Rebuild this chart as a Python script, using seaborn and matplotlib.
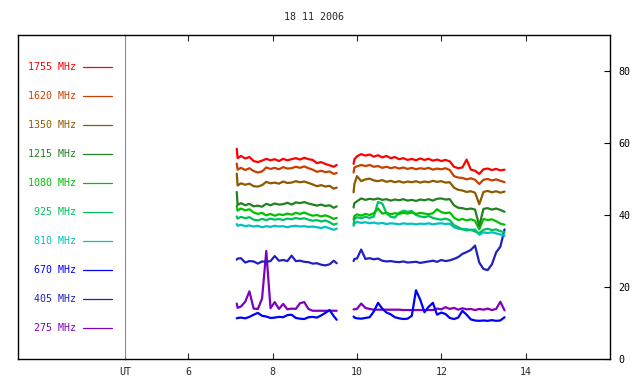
import numpy as np
import pandas as pd
import seaborn as sns
import matplotlib.pyplot as plt

# frequencies, colours (legend order, top to bottom)
freqs = ['1755', '1620', '1350', '1215', '1080', '925', '810', '670', '405', '275']
colors = ['#ff0000', '#c84000', '#8c5a00', '#228022', '#00c000',
          '#00c060', '#00c0c0', '#0000ff', '#2020c0', '#8000c0']

# time in UT hours, two observing segments
t_seg1 = [7.15, 7.17, 7.25, 7.35, 7.45, 7.55, 7.65, 7.75, 7.85, 7.95, 8.05, 8.15, 8.25,
          8.35, 8.45, 8.55, 8.65, 8.75, 8.85, 8.95, 9.05, 9.15, 9.25, 9.35, 9.45, 9.52]
t_seg2 = [9.92, 9.94, 10.0, 10.1, 10.2, 10.3, 10.4, 10.5, 10.6, 10.7, 10.8, 10.9, 11.0,
          11.1, 11.2, 11.3, 11.4, 11.5, 11.6, 11.7, 11.8, 11.9, 12.0, 12.1, 12.2, 12.3,
          12.4, 12.5, 12.6, 12.7, 12.8, 12.9, 13.0, 13.1, 13.2, 13.3, 13.4, 13.5]

# flux values
f1755_a = [58.4, 55.8, 56.4, 55.7, 56.1, 55.0, 54.7, 55.1, 55.6, 55.2, 55.5, 55.0, 55.6,
           55.2, 55.5, 55.8, 55.4, 55.9, 55.5, 55.3, 54.4, 54.7, 54.2, 53.8, 53.4, 53.9]
f1755_b = [54.2, 55.5, 56.3, 56.9, 56.5, 56.8, 56.2, 56.6, 56.0, 56.4, 55.8, 56.1, 55.5,
           55.8, 55.3, 55.6, 55.2, 55.7, 55.3, 55.6, 55.1, 55.4, 55.0, 55.3, 54.9, 53.4,
           53.0, 53.2, 55.4, 52.6, 52.3, 51.4, 52.7, 52.9, 52.5, 52.8, 52.4, 52.6]
f1620_a = [54.3, 52.6, 53.1, 52.5, 53.0, 52.2, 51.8, 52.1, 53.2, 52.8, 53.1, 52.7, 53.3,
           52.9, 53.0, 53.4, 53.1, 53.5, 53.0, 52.6, 52.0, 52.3, 51.9, 52.1, 51.4, 51.7]
f1620_b = [51.8, 53.2, 53.5, 53.9, 53.6, 53.9, 53.4, 53.6, 53.1, 53.4, 53.0, 53.3, 52.9,
           53.2, 52.8, 53.1, 52.7, 53.0, 52.8, 53.1, 52.6, 52.9, 52.7, 53.0, 52.5, 50.8,
           50.4, 50.3, 49.9, 50.2, 49.8, 48.6, 49.8, 50.0, 49.6, 49.9, 49.5, 49.1]
f1350_a = [51.5, 48.2, 48.8, 48.4, 48.7, 48.0, 47.9, 48.3, 49.2, 48.8, 49.0, 48.7, 49.3,
           48.9, 49.0, 49.4, 49.1, 49.3, 48.9, 48.5, 48.0, 48.3, 47.9, 48.1, 47.3, 47.6]
f1350_b = [46.3, 48.6, 50.8, 49.4, 49.9, 50.1, 49.6, 49.4, 49.7, 49.2, 49.5, 49.1, 49.4,
           49.0, 49.3, 49.1, 49.4, 49.0, 49.3, 49.1, 49.5, 49.2, 49.4, 49.0, 49.1, 47.6,
           47.0, 46.8, 46.4, 46.6, 46.2, 43.0, 46.4, 46.7, 46.3, 46.6, 46.2, 46.5]
f1215_a = [46.4, 42.8, 43.3, 42.7, 43.1, 42.4, 42.6, 42.3, 43.1, 42.7, 43.2, 42.9, 43.0,
           43.4, 42.9, 43.5, 43.3, 43.6, 43.2, 42.9, 42.6, 42.9, 42.5, 42.7, 42.0, 42.4]
f1215_b = [42.1, 43.3, 43.8, 44.6, 44.2, 44.5, 44.3, 44.6, 44.2, 44.4, 44.0, 44.3, 44.1,
           44.4, 44.0, 44.2, 43.9, 44.3, 44.1, 44.4, 44.0, 44.5, 44.6, 44.3, 44.4, 42.7,
           42.0, 41.9, 41.6, 41.8, 41.5, 37.0, 41.7, 41.9, 41.5, 41.8, 41.4, 40.9]
f1080_a = [42.5, 41.2, 41.8, 41.3, 41.6, 40.7, 40.3, 40.6, 39.9, 40.3, 39.8, 40.2, 40.0,
           40.4, 40.1, 40.6, 40.3, 40.7, 40.2, 39.8, 40.0, 39.6, 39.9, 39.5, 38.9, 39.2]
f1080_b = [38.8, 39.7, 40.2, 39.8, 40.3, 40.0, 40.5, 41.8, 40.4, 40.6, 40.2, 40.5, 40.3,
           40.6, 40.4, 40.7, 40.3, 40.6, 40.4, 40.2, 40.5, 41.6, 40.8, 40.5, 40.7, 39.3,
           38.6, 38.9, 38.5, 38.8, 38.4, 36.0, 38.9, 38.6, 38.8, 38.3, 37.6, 37.3]
f925_a = [39.6, 39.0, 39.5, 39.1, 39.4, 38.7, 38.5, 38.9, 38.6, 39.0, 38.7, 38.9, 38.6,
          39.0, 38.8, 39.2, 38.9, 39.1, 38.7, 38.4, 38.6, 38.2, 38.5, 38.0, 37.3, 37.6]
f925_b = [37.4, 38.9, 39.4, 39.1, 39.5, 39.2, 39.6, 43.6, 43.2, 40.5, 39.5, 39.3, 40.6,
          41.2, 40.9, 41.1, 40.0, 39.6, 39.4, 39.7, 39.2, 38.9, 38.7, 39.0, 38.6, 37.2,
          36.6, 36.1, 35.7, 35.9, 35.4, 35.0, 35.9, 36.2, 35.8, 36.0, 35.5, 35.2]
f810_a = [37.5, 37.0, 37.3, 36.9, 37.1, 36.8, 37.0, 36.6, 36.9, 36.7, 37.0, 36.8, 36.9,
          36.6, 36.9, 37.0, 36.8, 36.9, 36.7, 36.8, 36.6, 36.4, 36.7, 36.3, 35.9, 36.2]
f810_b = [37.0, 37.6, 38.1, 37.8, 38.0, 37.7, 37.9, 37.6, 37.8, 37.5, 37.7, 37.6, 37.4,
          37.7, 37.5, 37.6, 37.4, 37.6, 37.5, 37.7, 37.4, 37.6, 37.7, 37.5, 37.6, 36.6,
          36.2, 36.0, 36.1, 35.8, 36.0, 34.5, 35.2, 35.0, 35.2, 34.9, 34.6, 34.2]
f670_a = [11.3, 11.4, 11.5, 11.3, 11.7, 12.3, 12.8, 12.0, 11.8, 11.4, 11.5, 11.7, 11.6,
          12.2, 12.3, 11.4, 11.2, 11.1, 11.6, 11.7, 11.5, 12.1, 12.8, 13.6, 11.9, 10.9]
f670_b = [11.8, 11.5, 11.3, 11.2, 11.4, 11.6, 13.2, 15.6, 14.0, 12.9, 12.4, 11.6, 11.3,
          11.1, 11.2, 12.0, 19.1, 16.5, 13.0, 14.5, 15.6, 12.3, 12.9, 12.5, 11.4, 11.1,
          11.5, 13.4, 12.3, 11.0, 10.7, 10.6, 10.7, 10.6, 10.8, 10.6, 10.7, 11.6]
f405_a = [27.6, 27.9, 28.0, 26.8, 27.2, 27.1, 26.5, 27.1, 27.0, 27.2, 28.6, 27.3, 27.5,
          27.2, 28.7, 27.2, 27.3, 27.0, 26.9, 26.5, 26.6, 26.2, 26.0, 26.3, 27.3, 26.6]
f405_b = [27.2, 27.8, 27.9, 30.4, 27.8, 28.0, 27.7, 27.9, 27.3, 27.1, 27.2, 27.0, 26.9,
          27.1, 26.8, 26.9, 27.0, 26.7, 26.9, 27.1, 27.3, 27.0, 27.5, 27.2, 27.4, 27.8,
          28.3, 29.2, 29.7, 30.3, 31.5, 26.8, 25.0, 24.7, 26.3, 29.6, 31.2, 36.0]
f275_a = [15.4, 14.2, 14.6, 15.9, 18.8, 14.0, 13.9, 16.8, 30.0, 14.1, 15.8, 13.9, 15.3,
          13.8, 14.0, 13.9, 15.5, 15.8, 13.9, 13.4, 13.4, 13.4, 13.4, 13.4, 13.4, 13.4]
f275_b = [13.8, 13.8, 13.9, 15.4, 14.2, 13.9, 13.7, 13.7, 13.7, 13.7, 13.7, 13.7, 13.7,
          13.6, 13.6, 13.6, 13.6, 13.6, 13.6, 13.6, 13.6, 14.0, 13.8, 14.4, 13.9, 14.2,
          13.7, 14.1, 13.8, 13.9, 13.6, 13.9, 13.7, 14.0, 13.6, 13.9, 15.9, 13.5]

series = {
    '1755': (f1755_a, f1755_b), '1620': (f1620_a, f1620_b), '1350': (f1350_a, f1350_b),
    '1215': (f1215_a, f1215_b), '1080': (f1080_a, f1080_b), '925': (f925_a, f925_b),
    '810': (f810_a, f810_b), '670': (f670_a, f670_b), '405': (f405_a, f405_b),
    '275': (f275_a, f275_b),
}

rows = []
for f in freqs:
    a, b = series[f]
    rows += [(t, v, f, 1) for t, v in zip(t_seg1, a)]
    rows += [(t, v, f, 2) for t, v in zip(t_seg2, b)]
df = pd.DataFrame(rows, columns=['ut', 'flux', 'freq', 'seg'])

sns.set_style("white")
plt.rcParams['font.family'] = ['DejaVu Sans Mono']
plt.rcParams['font.size'] = 7.2

fig = plt.figure(figsize=(6.4, 3.84), dpi=100)
W, H = 640, 384
ax = fig.add_axes([125 / W, 25 / H, 485 / W, 324 / H])
lax = fig.add_axes([18 / W, 25 / H, 107 / W, 324 / H])

# plot in reverse order so the top frequencies sit on top
palette = dict(zip(freqs, colors))
sns.lineplot(data=df, x='ut', y='flux', hue='freq', units='seg', estimator=None,
             sort=False, palette=palette, hue_order=freqs[::-1], legend=False,
             linewidth=1.6, ax=ax)

ax.set_xlim(4.5, 16)
ax.set_ylim(0, 90)
ax.set_xticks([4.5, 6, 8, 10, 12, 14])
ax.set_xticklabels(['UT', '6', '8', '10', '12', '14'])
ax.set_yticks([0, 20, 40, 60, 80])
ax.yaxis.tick_right()
ax.tick_params(axis='y', direction='in', length=4, width=0.8, pad=6, colors='black')
ax.tick_params(axis='x', direction='in', length=4, width=0.8, pad=6, top=True, bottom=True)
ax.set_xlabel('')
ax.set_ylabel('')
for side in ['top', 'bottom', 'right']:
    ax.spines[side].set_color('black')
    ax.spines[side].set_linewidth(1.0)
ax.spines['left'].set_color('#888888')
ax.spines['left'].set_linewidth(0.8)
ax.xaxis.get_major_ticks()[0].tick1line.set_visible(False)
ax.xaxis.get_major_ticks()[0].tick2line.set_visible(False)

# legend panel
lax.set_xlim(0, 1)
lax.set_ylim(0, 1)
lax.set_xticks([])
lax.set_yticks([])
for side in ['top', 'bottom', 'left']:
    lax.spines[side].set_color('black')
    lax.spines[side].set_linewidth(1.0)
lax.spines['right'].set_visible(False)
for i, (f, c) in enumerate(zip(freqs, colors)):
    y = (359 - (67 + 29 * i)) / 324
    lax.text(0.545, y, f'{f} MHz', color=c, ha='right', va='center')
    lax.plot([0.607, 0.879], [y, y], color=c, linewidth=0.9)

fig.text(314 / W, 1 - 17 / H, '18 11 2006', ha='center', va='center')

fig.savefig('out.png', dpi=100)
